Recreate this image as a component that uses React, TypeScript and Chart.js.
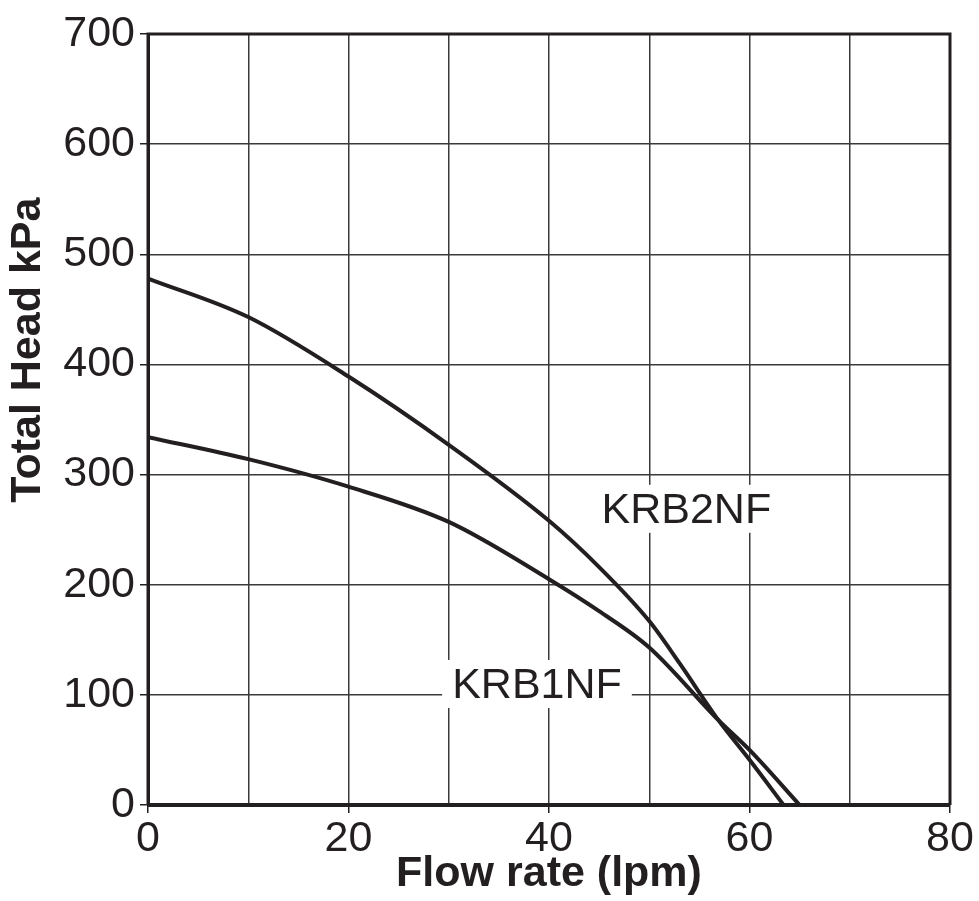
import React, { useEffect, useRef } from "react";
import { Chart, registerables } from "chart.js";

Chart.register(...registerables);

const krb2Flow = [0, 10, 20, 30, 40, 45, 50, 53, 56.9, 60, 63.4];
const krb2Head = [478, 443, 389, 327, 258, 216, 167, 129, 77, 41, 0];
const krb1Flow = [0, 10, 20, 30, 40, 45, 50, 56.9, 60, 65];
const krb1Head = [334, 314, 289, 257, 205, 176, 143, 77, 50, 0];

const seriesLabels = ["KRB2NF", "KRB1NF"];
const labelPositions = [
  { x: 53.7, y: 268 },
  { x: 38.8, y: 109 },
];
const yTitle = "Total Head kPa";
const yTitleCenterValue = 413;

const INK = "#231f20";
const FONT = "'Liberation Sans', Arial, sans-serif";

const labelPlugin = {
  id: "curveLabels",
  afterDatasetsDraw(chart: any) {
    const { ctx, chartArea, scales } = chart;
    ctx.save();
    // frame
    ctx.strokeStyle = INK;
    ctx.lineWidth = 3;
    ctx.beginPath();
    ctx.moveTo(chartArea.left, chartArea.bottom);
    ctx.lineTo(chartArea.left, chartArea.top);
    ctx.lineTo(chartArea.right, chartArea.top);
    ctx.lineTo(chartArea.right, chartArea.bottom);
    ctx.stroke();
    ctx.lineWidth = 4;
    ctx.beginPath();
    ctx.moveTo(chartArea.left, chartArea.bottom);
    ctx.lineTo(chartArea.right, chartArea.bottom);
    ctx.stroke();

    ctx.font = `43px ${FONT}`;
    ctx.textAlign = "center";
    ctx.textBaseline = "middle";
    seriesLabels.forEach((t, i) => {
      const px = scales.x.getPixelForValue(labelPositions[i].x);
      const py = scales.y.getPixelForValue(labelPositions[i].y);
      const w = ctx.measureText(t).width;
      ctx.fillStyle = "#ffffff";
      ctx.fillRect(px - w / 2 - 10, py - 25, w + 20, 48);
      ctx.fillStyle = INK;
      ctx.fillText(t, px, py + 1);
    });

    // y axis title
    const ty = scales.y.getPixelForValue(yTitleCenterValue);
    ctx.translate(28, ty);
    ctx.rotate(-Math.PI / 2);
    ctx.font = `bold 43px ${FONT}`;
    ctx.fillStyle = INK;
    ctx.fillText(yTitle, 0, 0);
    ctx.restore();
  },
};

export default function App() {
  const ref = useRef<HTMLCanvasElement>(null);
  useEffect(() => {
    if (!ref.current) return;
    const chart = new Chart(ref.current, {
      type: "line",
      data: {
        datasets: [
          {
            label: seriesLabels[0],
            data: krb2Flow.map((x, i) => ({ x, y: krb2Head[i] })),
            borderColor: INK,
            borderWidth: 4,
            pointRadius: 0,
            tension: 0.4,
            cubicInterpolationMode: "monotone",
            fill: false,
          },
          {
            label: seriesLabels[1],
            data: krb1Flow.map((x, i) => ({ x, y: krb1Head[i] })),
            borderColor: INK,
            borderWidth: 4,
            pointRadius: 0,
            tension: 0.4,
            cubicInterpolationMode: "monotone",
            fill: false,
          },
        ],
      },
      options: {
        animation: false,
        responsive: true,
        maintainAspectRatio: false,
        devicePixelRatio: 1,
        layout: { padding: { top: 34, right: 29, left: 0, bottom: 0 } },
        plugins: { legend: { display: false }, tooltip: { enabled: false } },
        scales: {
          x: {
            type: "linear",
            min: 0,
            max: 80,
            afterFit: (s: any) => {
              s.height = 96;
            },
            ticks: {
              stepSize: 10,
              color: INK,
              padding: 0,
              maxRotation: 0,
              autoSkip: false,
              font: { family: FONT, size: 43 },
              callback: (v: any) => (Number(v) % 20 === 0 ? String(v) : ""),
            },
            grid: {
              color: "#3a3a3a",
              lineWidth: 1.5,
              tickLength: 8,
              tickColor: (c: any) =>
                c.tick && Number(c.tick.value) % 20 === 0 ? INK : "rgba(0,0,0,0)",
            },
            border: { color: INK, width: 3 },
            title: {
              display: true,
              text: "Flow rate (lpm)",
              color: INK,
              font: { family: FONT, size: 43, weight: "bold", lineHeight: 1.2 },
              padding: { top: 0, bottom: 1 },
            },
          },
          y: {
            type: "linear",
            min: 0,
            max: 700,
            afterFit: (s: any) => {
              s.width = 148;
            },
            ticks: {
              stepSize: 100,
              color: INK,
              padding: 5,
              font: { family: FONT, size: 43 },
            },
            grid: {
              color: "#3a3a3a",
              lineWidth: 1.5,
              tickLength: 8,
              tickColor: INK,
            },
            border: { color: INK, width: 3 },
            title: { display: false },
          },
        },
      },
      plugins: [labelPlugin],
    } as any);
    return () => chart.destroy();
  }, []);
  return (
    <div
      style={{
        position: "fixed",
        left: 0,
        top: 0,
        width: 979,
        height: 901,
        background: "#fff",
      }}
    >
      <canvas ref={ref} />
    </div>
  );
}
